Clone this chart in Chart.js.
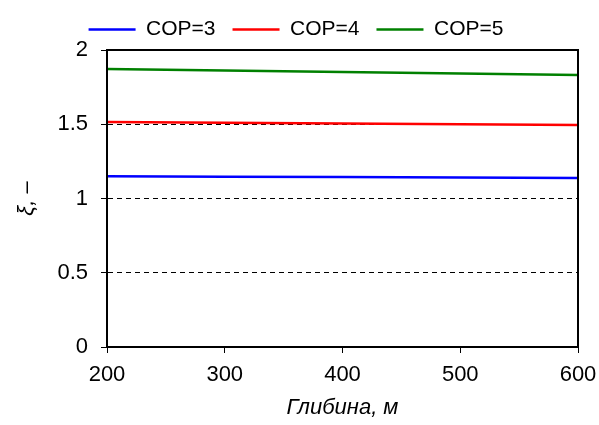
<!DOCTYPE html>
<html>
<head>
<meta charset="utf-8">
<script src="https://cdn.jsdelivr.net/npm/chart.js@4/dist/chart.umd.min.js"></script>
<style>
  html, body { margin: 0; padding: 0; background: #fff; }
  #wrap { width: 599px; height: 425px; }
</style>
</head>
<body>
<div id="wrap"><canvas id="chart" width="599" height="425"></canvas></div>
<script>
// data
const depths = [200, 300, 400, 500, 600];
const seriesNames = ["COP=3", "COP=4", "COP=5"];
const cop3 = [1.150, 1.147, 1.144, 1.141, 1.138];
const cop4 = [1.515, 1.510, 1.505, 1.500, 1.495];
const cop5 = [1.872, 1.862, 1.852, 1.842, 1.832];
const seriesColors = ["#0000ff", "#ff0000", "#008000"];
const yTicks = [0, 0.5, 1, 1.5, 2];

const font = "'Liberation Sans', Arial, sans-serif";

function toPoints(vals) {
  return vals.map(function (v, i) { return { x: depths[i], y: v }; });
}

// frame round the plot area
const frame = {
  id: "frame",
  afterDraw(chart) {
    const a = chart.chartArea;
    const ctx = chart.ctx;
    ctx.save();
    ctx.strokeStyle = "#000";
    ctx.lineWidth = 2;
    ctx.strokeRect(a.left, a.top, a.right - a.left, a.bottom - a.top);
    ctx.restore();
  }
};

const datasets = [cop3, cop4, cop5].map(function (vals, i) {
  return {
    label: seriesNames[i],
    data: toPoints(vals),
    borderColor: seriesColors[i],
    backgroundColor: seriesColors[i],
    borderWidth: 2.5,
    pointRadius: 0,
    fill: false,
    tension: 0
  };
});

new Chart(document.getElementById("chart"), {
  type: "line",
  data: { datasets: datasets },
  options: {
    responsive: false,
    animation: false,
    layout: { padding: { left: 14, right: 21, top: 2, bottom: 0 } },
    plugins: {
      tooltip: { enabled: false },
      legend: {
        position: "top",
        labels: {
          font: { family: font, size: 21 },
          color: "#000",
          usePointStyle: true,
          pointStyle: "line",
          pointStyleWidth: 47,
          boxHeight: 21,
          padding: 17
        }
      }
    },
    scales: {
      x: {
        type: "linear",
        min: 200,
        max: 600,
        afterFit(scale) {
          scale.height = 78;
          scale.paddingLeft = 0;
          scale.paddingRight = 0;
        },
        ticks: {
          stepSize: 100,
          font: { family: font, size: 22 },
          color: "#000",
          padding: 9
        },
        grid: {
          drawOnChartArea: false,
          tickLength: 6,
          tickColor: "#000"
        },
        border: { color: "#000", width: 2 },
        title: {
          display: true,
          text: "Глибина, м",
          font: { family: font, size: 22, style: "italic" },
          color: "#000",
          padding: { top: 3 }
        }
      },
      y: {
        min: 0,
        max: 2,
        afterFit(scale) { scale.width = 93; },
        afterBuildTicks(scale) {
          scale.ticks = yTicks.map(function (v) { return { value: v }; });
        },
        ticks: {
          font: { family: font, size: 22 },
          color: "#000",
          padding: 13,
          callback: function (v) { return String(v); }
        },
        grid: {
          color: function (ctx) {
            const v = ctx.tick ? ctx.tick.value : null;
            return (v === 0 || v === 2) ? "rgba(0,0,0,0)" : "#000";
          },
          tickColor: "#000",
          tickLength: 6,
          lineWidth: 1,
          tickBorderDash: [1, 0]
        },
        border: { color: "#000", width: 2, dash: [5, 4] },
        title: {
          display: true,
          text: "ξ, –",
          font: { family: font, size: 22, style: "italic" },
          color: "#000",
          padding: { top: 0, bottom: 0 }
        }
      }
    }
  },
  plugins: [frame]
});
</script>
</body>
</html>
